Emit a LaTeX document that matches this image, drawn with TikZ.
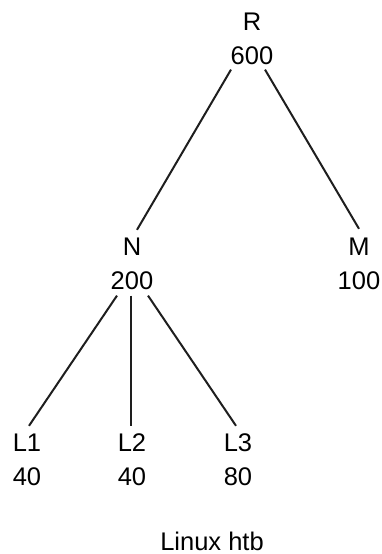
\documentclass[tikz,border=0pt]{standalone}
\usepackage{fontspec}
\setmainfont{Liberation Sans}
\usepackage{tikz}
\usetikzlibrary{positioning}
\definecolor{treeline}{RGB}{30,30,30}

\begin{document}
\begin{tikzpicture}[
    x=1pt,y=-1pt,
    node distance=16pt,
    lbl/.style={inner sep=0pt,text height=18pt,text depth=0pt,font=\fontsize{25.5}{30}\selectfont},
    edge/.style={draw=treeline,line width=2pt}
  ]
    \useasboundingbox (0,0) rectangle (382,554);

    % root
    \node[lbl] (r) at (252,21) {R};
    \node[lbl,below=of r] (rv) {600};

    % second level
    \node[lbl] (n) at (132,246) {N};
    \node[lbl,below=of n] (nv) {200};
    \node[lbl] (m) at (359,246) {M};
    \node[lbl,below=of m] (mv) {100};

    % leaves
    \node[lbl] (l1) at (27,442) {L1};
    \node[lbl,below=of l1] (l1v) {40};
    \node[lbl] (l2) at (132,442) {L2};
    \node[lbl,below=of l2] (l2v) {40};
    \node[lbl] (l3) at (238,442) {L3};
    \node[lbl,below=of l3] (l3v) {80};

    \node[lbl] (caption) at (212,541) {Linux htb};

    \draw[edge] ([xshift=-21pt,yshift=-5pt]rv.south) -- ([xshift=5pt,yshift=7pt]n.north);
    \draw[edge] ([xshift=13pt,yshift=-5pt]rv.south) -- ([yshift=8pt]m.north);
    \draw[edge] ([xshift=-15pt,yshift=-6pt]nv.south) -- ([xshift=2pt,yshift=7pt]l1.north);
    \draw[edge] ([xshift=-1pt,yshift=-6pt]nv.south) -- ([xshift=-1pt,yshift=7pt]l2.north);
    \draw[edge] ([xshift=16pt,yshift=-6pt]nv.south) -- ([xshift=-2pt,yshift=7pt]l3.north);
  \end{tikzpicture}
\end{document}
